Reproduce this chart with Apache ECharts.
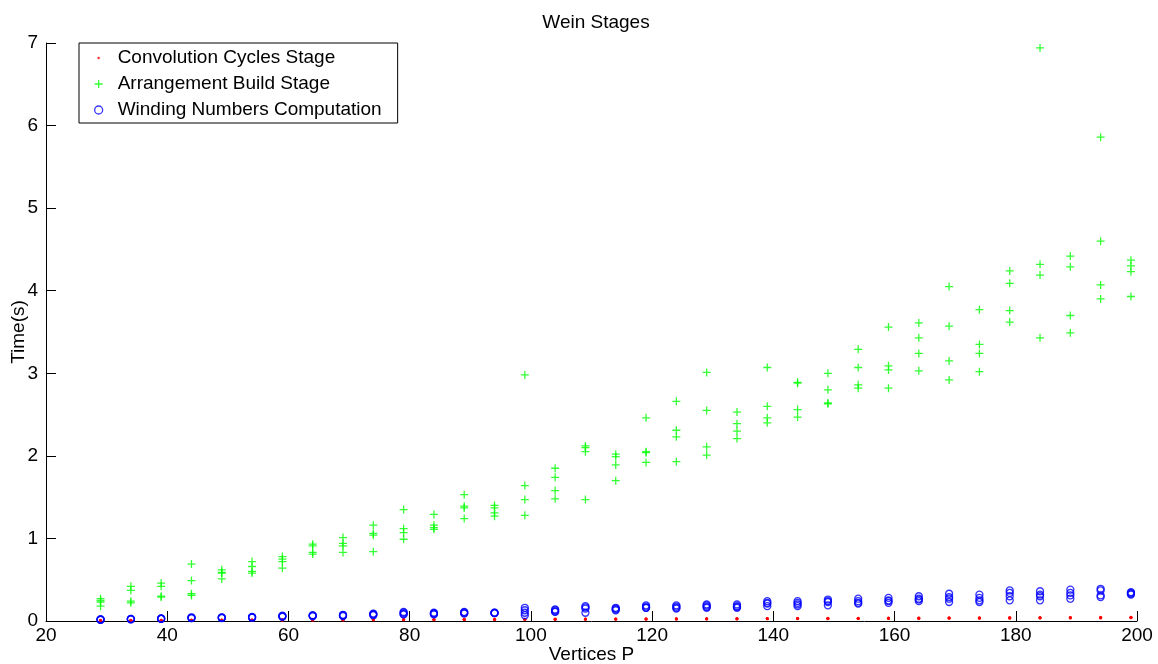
<!DOCTYPE html>
<html>
<head>
<meta charset="utf-8">
<title>Wein Stages</title>
<script src="https://cdn.jsdelivr.net/npm/echarts@6/dist/echarts.min.js"></script>
<style>
  html, body { margin: 0; padding: 0; background: #fff; }
  #chart { width: 1158px; height: 664px; }
</style>
</head>
<body>
<div id="chart"></div>
<script>
// Polygon vertex counts (x positions of each measurement column)
const vertices = [29, 34, 39, 44, 49, 54, 59, 64, 69, 74, 79, 84, 89, 94, 99, 104, 109, 114,
                  119, 124, 129, 134, 139, 144, 149, 154, 159, 164, 169, 174, 179, 184, 189, 194, 199];

// Four timed runs per vertex count, seconds
const convolutionTimes = [
  [0.008, 0.007, 0.006, 0.006], [0.009, 0.008, 0.007, 0.006], [0.010, 0.009, 0.008, 0.007],
  [0.011, 0.010, 0.009, 0.008], [0.012, 0.011, 0.010, 0.009], [0.012, 0.012, 0.011, 0.010],
  [0.014, 0.013, 0.012, 0.011], [0.015, 0.014, 0.013, 0.012], [0.015, 0.015, 0.014, 0.013],
  [0.017, 0.016, 0.015, 0.014], [0.018, 0.017, 0.016, 0.014], [0.018, 0.017, 0.017, 0.016],
  [0.020, 0.019, 0.018, 0.017], [0.021, 0.020, 0.019, 0.017], [0.022, 0.021, 0.020, 0.019],
  [0.023, 0.022, 0.021, 0.020], [0.024, 0.023, 0.022, 0.020], [0.025, 0.024, 0.023, 0.021],
  [0.026, 0.025, 0.024, 0.022], [0.027, 0.026, 0.025, 0.023], [0.028, 0.027, 0.026, 0.024],
  [0.029, 0.028, 0.027, 0.025], [0.031, 0.029, 0.028, 0.026], [0.032, 0.030, 0.029, 0.027],
  [0.033, 0.031, 0.030, 0.028], [0.034, 0.033, 0.031, 0.029], [0.036, 0.034, 0.032, 0.030],
  [0.037, 0.035, 0.033, 0.031], [0.038, 0.036, 0.035, 0.032], [0.039, 0.037, 0.036, 0.033],
  [0.041, 0.039, 0.037, 0.034], [0.042, 0.040, 0.038, 0.035], [0.043, 0.041, 0.039, 0.036],
  [0.045, 0.042, 0.040, 0.037], [0.046, 0.044, 0.041, 0.038]
];

const arrangementTimes = [
  [0.27, 0.25, 0.23, 0.18], [0.42, 0.37, 0.24, 0.22], [0.46, 0.42, 0.30, 0.29],
  [0.69, 0.49, 0.33, 0.31], [0.62, 0.59, 0.58, 0.51], [0.72, 0.66, 0.60, 0.58],
  [0.78, 0.75, 0.72, 0.64], [0.93, 0.91, 0.83, 0.81], [1.01, 0.94, 0.91, 0.83],
  [1.16, 1.06, 1.04, 0.84], [1.35, 1.12, 1.07, 0.99], [1.29, 1.16, 1.13, 1.11],
  [1.53, 1.39, 1.37, 1.24], [1.40, 1.37, 1.31, 1.27], [2.98, 1.64, 1.47, 1.28],
  [1.85, 1.74, 1.58, 1.48], [2.12, 2.10, 2.05, 1.47], [2.02, 1.99, 1.89, 1.70],
  [2.46, 2.05, 2.04, 1.92], [2.66, 2.31, 2.23, 1.93], [3.01, 2.55, 2.11, 2.01],
  [2.53, 2.39, 2.30, 2.21], [3.07, 2.60, 2.46, 2.40], [2.89, 2.88, 2.56, 2.47],
  [3.00, 2.80, 2.64, 2.63], [3.29, 3.07, 2.86, 2.82], [3.56, 3.09, 3.04, 2.82],
  [3.61, 3.43, 3.24, 3.03], [4.05, 3.57, 3.15, 2.92], [3.77, 3.35, 3.24, 3.02],
  [4.24, 4.09, 3.76, 3.62], [6.94, 4.32, 4.19, 3.43], [4.42, 4.29, 3.70, 3.49],
  [5.86, 4.60, 4.07, 3.90], [4.37, 4.30, 4.23, 3.93]
];

const windingTimes = [
  [0.020, 0.020, 0.015, 0.015], [0.025, 0.025, 0.020, 0.020], [0.030, 0.030, 0.025, 0.025],
  [0.045, 0.040, 0.035, 0.035], [0.045, 0.040, 0.040, 0.035], [0.050, 0.045, 0.045, 0.040],
  [0.065, 0.060, 0.055, 0.050], [0.070, 0.065, 0.060, 0.060], [0.075, 0.070, 0.065, 0.060],
  [0.090, 0.085, 0.075, 0.070], [0.110, 0.100, 0.085, 0.080], [0.100, 0.095, 0.085, 0.080],
  [0.110, 0.105, 0.095, 0.090], [0.100, 0.100, 0.095, 0.095], [0.160, 0.130, 0.100, 0.070],
  [0.140, 0.130, 0.115, 0.110], [0.180, 0.165, 0.150, 0.100], [0.160, 0.150, 0.140, 0.130],
  [0.190, 0.175, 0.160, 0.160], [0.190, 0.175, 0.160, 0.150], [0.200, 0.185, 0.170, 0.160],
  [0.200, 0.180, 0.170, 0.160], [0.240, 0.220, 0.210, 0.180], [0.240, 0.220, 0.200, 0.180],
  [0.260, 0.240, 0.230, 0.190], [0.270, 0.240, 0.220, 0.210], [0.280, 0.250, 0.240, 0.220],
  [0.300, 0.270, 0.260, 0.240], [0.330, 0.290, 0.270, 0.230], [0.320, 0.280, 0.250, 0.230],
  [0.370, 0.340, 0.300, 0.250], [0.360, 0.320, 0.300, 0.250], [0.380, 0.340, 0.310, 0.270],
  [0.390, 0.370, 0.310, 0.290], [0.350, 0.340, 0.330, 0.320]
];

const seriesNames = ['Convolution Cycles Stage', 'Arrangement Build Stage', 'Winding Numbers Computation'];
const xTicks = { min: 20, max: 200, step: 20 };
const yTicks = { min: 0, max: 7, step: 1 };

// Flatten per-column runs into [x, y] pairs
function toPoints(runs) {
  const pts = [];
  runs.forEach((row, i) => row.forEach(v => pts.push([vertices[i], v])));
  return pts;
}

const FONT = 'Liberation Sans, Arial, Helvetica, sans-serif';
const PLUS = 'path://M4.2,0H5.8V4.2H10V5.8H5.8V10H4.2V5.8H0V4.2H4.2Z';
const DOT_ICON = 'path://M0,0M10,10M3.4,5A1.6,1.6,0,1,1,6.6,5A1.6,1.6,0,1,1,3.4,5Z';

const chart = echarts.init(document.getElementById('chart'), null, { renderer: 'canvas' });

chart.setOption({
  animation: false,
  backgroundColor: '#fff',
  title: {
    text: 'Wein Stages',
    left: 591,
    textAlign: 'center',
    top: 8,
    textStyle: { fontFamily: FONT, fontSize: 19, fontWeight: 'normal', color: '#000' }
  },
  legend: {
    orient: 'vertical',
    left: 79,
    top: 43,
    itemWidth: 8,
    itemHeight: 8,
    itemGap: 0,
    padding: [2, 16, 0, 15],
    borderColor: '#000',
    borderWidth: 1,
    backgroundColor: '#fff',
    selectedMode: false,
    textStyle: { fontFamily: FONT, fontSize: 19, color: '#000', lineHeight: 26, padding: [0, 0, 0, 10] },
    data: [
      { name: seriesNames[0], icon: DOT_ICON, itemStyle: { color: '#ff0000' } },
      { name: seriesNames[1], icon: PLUS, itemStyle: { color: '#00ff00' } },
      { name: seriesNames[2], icon: 'circle',
        itemStyle: { color: 'rgba(0,0,0,0)', borderColor: '#0000ff', borderWidth: 1.3 } }
    ]
  },
  grid: { left: 46, right: 21, top: 43, bottom: 43, containLabel: false, outerBoundsMode: 'none' },
  xAxis: {
    type: 'value',
    min: xTicks.min, max: xTicks.max, interval: xTicks.step,
    name: 'Vertices P',
    nameLocation: 'middle',
    nameGap: 24,
    nameMoveOverlap: false,
    nameTextStyle: { fontFamily: FONT, fontSize: 19, color: '#000' },
    axisLine: { show: true, onZero: false, lineStyle: { color: '#000', width: 1 } },
    axisTick: { show: true, inside: true, length: 10, lineStyle: { color: '#000' } },
    axisLabel: { fontFamily: FONT, fontSize: 19, color: '#000', margin: 5 },
    splitLine: { show: false }
  },
  yAxis: {
    type: 'value',
    min: yTicks.min, max: yTicks.max, interval: yTicks.step,
    name: 'Time(s)',
    nameLocation: 'middle',
    nameGap: 18,
    nameRotate: 90,
    nameMoveOverlap: false,
    nameTextStyle: { fontFamily: FONT, fontSize: 19, color: '#000' },
    axisLine: { show: true, lineStyle: { color: '#000', width: 1 } },
    axisTick: { show: true, inside: true, length: 10, lineStyle: { color: '#000' } },
    axisLabel: { fontFamily: FONT, fontSize: 19, color: '#000', margin: 8 },
    splitLine: { show: false }
  },
  series: [
    {
      name: seriesNames[0], type: 'scatter', data: toPoints(convolutionTimes),
      symbol: 'circle', symbolSize: 3,
      itemStyle: { color: '#ff0000' }, emphasis: { disabled: true }
    },
    {
      name: seriesNames[1], type: 'scatter', data: toPoints(arrangementTimes),
      symbol: PLUS, symbolSize: 8,
      itemStyle: { color: '#00ff00' }, emphasis: { disabled: true }
    },
    {
      name: seriesNames[2], type: 'scatter', data: toPoints(windingTimes),
      symbol: 'circle', symbolSize: 7,
      itemStyle: { color: 'rgba(0,0,0,0)', borderColor: '#0000ff', borderWidth: 1.3 },
      emphasis: { disabled: true }
    }
  ]
});
</script>
</body>
</html>
